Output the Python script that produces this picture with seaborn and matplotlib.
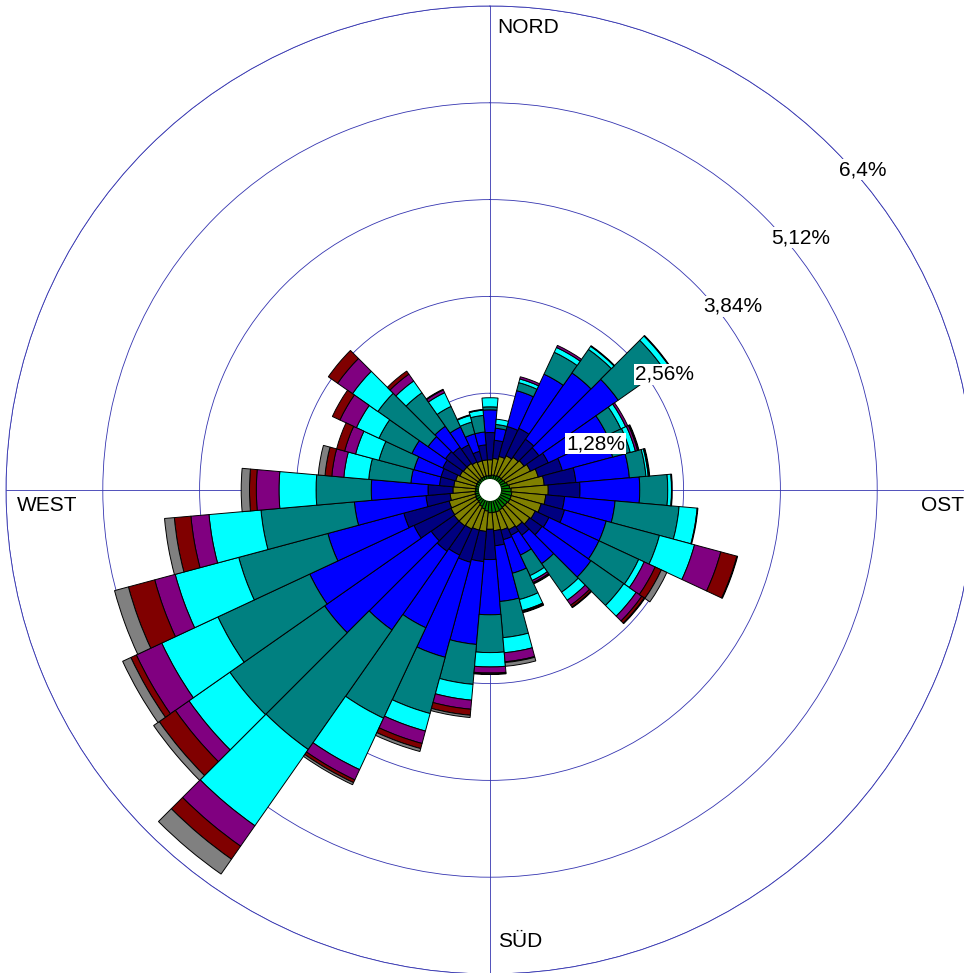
import numpy as np
import matplotlib
matplotlib.use("Agg")
import matplotlib.pyplot as plt
import seaborn as sns

# wind direction sectors (degrees, clockwise from north)
directions = np.arange(0, 360, 10)

# frequency per speed class and sector, in percent (innermost class first)
s1 = [0.19, 0.20, 0.20, 0.21, 0.21, 0.21, 0.22, 0.24, 0.26, 0.28, 0.29, 0.29,
      0.29, 0.28, 0.28, 0.29, 0.30, 0.30, 0.30, 0.28, 0.26, 0.24, 0.22, 0.21,
      0.21, 0.20, 0.20, 0.19, 0.19, 0.19, 0.19, 0.19, 0.19, 0.19, 0.19, 0.19]
s2 = [0.21, 0.22, 0.26, 0.29, 0.32, 0.34, 0.37, 0.42, 0.46, 0.49, 0.45, 0.41,
      0.37, 0.36, 0.32, 0.29, 0.25, 0.24, 0.22, 0.27, 0.29, 0.33, 0.36, 0.37,
      0.36, 0.36, 0.33, 0.30, 0.29, 0.28, 0.25, 0.24, 0.24, 0.22, 0.21, 0.21]
s3 = [0.36, 0.24, 0.41, 0.40, 0.29, 0.24, 0.26, 0.33, 0.42, 0.42, 0.25, 0.32,
      0.20, 0.20, 0.13, 0.08, 0.13, 0.20, 0.40, 0.40, 0.44, 0.38, 0.41, 0.37,
      0.54, 0.62, 0.32, 0.33, 0.19, 0.20, 0.25, 0.29, 0.26, 0.25, 0.13, 0.20]
s4 = [0.30, 0.16, 0.49, 0.79, 1.07, 1.28, 0.86, 0.69, 0.71, 0.79, 0.67, 0.57,
      0.73, 0.79, 0.46, 0.29, 0.46, 0.74, 0.73, 1.10, 1.30, 1.06, 1.27, 1.72,
      1.52, 1.04, 0.95, 0.75, 0.38, 0.37, 0.45, 0.28, 0.34, 0.26, 0.24, 0.17]
s5 = [0.04, 0.05, 0.11, 0.32, 0.38, 0.73, 0.20, 0.24, 0.22, 0.37, 0.85, 0.73,
      0.58, 0.53, 0.46, 0.30, 0.36, 0.48, 0.50, 0.53, 0.77, 1.32, 1.93, 1.53,
      1.34, 1.22, 1.24, 0.73, 0.56, 0.48, 0.48, 0.81, 0.54, 0.30, 0.16, 0.22]
s6 = [0.12, 0.07, 0.05, 0.07, 0.05, 0.08, 0.07, 0.07, 0.03, 0.05, 0.24, 0.48,
      0.08, 0.20, 0.13, 0.07, 0.15, 0.20, 0.19, 0.21, 0.24, 0.75, 1.23, 0.66,
      0.82, 0.87, 0.69, 0.49, 0.33, 0.32, 0.33, 0.41, 0.19, 0.20, 0.09, 0.07]
s7 = [0.00, 0.00, 0.03, 0.03, 0.01, 0.01, 0.03, 0.03, 0.01, 0.01, 0.00, 0.36,
      0.16, 0.09, 0.08, 0.03, 0.01, 0.12, 0.08, 0.12, 0.17, 0.15, 0.33, 0.22,
      0.37, 0.28, 0.24, 0.30, 0.16, 0.15, 0.24, 0.24, 0.11, 0.04, 0.01, 0.01]
s8 = [0.00, 0.00, 0.00, 0.00, 0.00, 0.00, 0.00, 0.01, 0.00, 0.00, 0.00, 0.22,
      0.09, 0.04, 0.03, 0.01, 0.01, 0.01, 0.01, 0.08, 0.07, 0.04, 0.21, 0.26,
      0.08, 0.36, 0.22, 0.09, 0.09, 0.11, 0.11, 0.15, 0.05, 0.01, 0.00, 0.00]
s9 = [0.00, 0.00, 0.00, 0.00, 0.00, 0.00, 0.00, 0.01, 0.01, 0.00, 0.01, 0.01,
      0.08, 0.01, 0.01, 0.01, 0.01, 0.05, 0.01, 0.03, 0.04, 0.03, 0.24, 0.09,
      0.12, 0.19, 0.13, 0.11, 0.09, 0.00, 0.00, 0.00, 0.00, 0.00, 0.00, 0.00]

speed_classes = [s1, s2, s3, s4, s5, s6, s7, s8, s9]
class_colors = ["#008000", "#808000", "#000080", "#0000ff", "#008080",
                "#00ffff", "#800080", "#800000", "#808080"]

rings = [1.28, 2.56, 3.84, 5.12, 6.4]
ring_labels = ["1,28%", "2,56%", "3,84%", "5,12%", "6,4%"]
compass = ["NORD", "OST", "SÜD", "WEST"]

sns.set_theme(style="white")
plt.rcParams["font.family"] = ["Liberation Sans", "DejaVu Sans"]

W, H = 964, 973
fig = plt.figure(figsize=(W / 100, H / 100), dpi=100)
fig.patch.set_facecolor("white")
# centre at (490, 490) px, outer ring radius 484 px
ax = fig.add_axes([6 / W, -1 / H, 968 / W, 968 / H], projection="polar")
ax.set_theta_zero_location("N")
ax.set_theta_direction(-1)

theta = np.deg2rad(directions)
width = np.deg2rad(10)
bottom = np.zeros(len(directions))
for vals, col in zip(speed_classes, class_colors):
    vals = np.asarray(vals)
    m = vals > 0
    ax.bar(theta[m], vals[m], width=width, bottom=bottom[m], color=col,
           edgecolor="black", linewidth=0.7, zorder=2)
    bottom += vals

# white hole in the middle
ax.bar(0, 0.145, width=2 * np.pi, bottom=0, color="white",
       edgecolor="none", zorder=3)

gridc = "#3434b0"
ax.set_ylim(0, 6.4)
ax.set_rticks(rings)
ax.set_yticklabels([])
ax.set_thetagrids([0, 90, 180, 270], labels=[])
ax.grid(True, color=gridc, linewidth=0.6)
ax.spines["polar"].set_color(gridc)
ax.spines["polar"].set_linewidth(0.6)
ax.set_axisbelow(True)

# ring labels (left x, baseline y in px)
ring_pos = [(566, 449), (635, 380), (703, 312), (771, 243), (839, 175)]
for (x, y), s in zip(ring_pos, ring_labels):
    fig.text(x / W, 1 - y / H, s, ha="left", va="baseline", fontsize=15,
             color="black",
             bbox=dict(facecolor="white", edgecolor="none", pad=1.0))

comp_pos = [(497, 33), (921, 511), (498, 947), (17, 511)]
for (x, y), s in zip(comp_pos, compass):
    fig.text(x / W, 1 - y / H, s, ha="left", va="baseline", fontsize=15,
             color="black")

fig.savefig("out.png", dpi=100)
